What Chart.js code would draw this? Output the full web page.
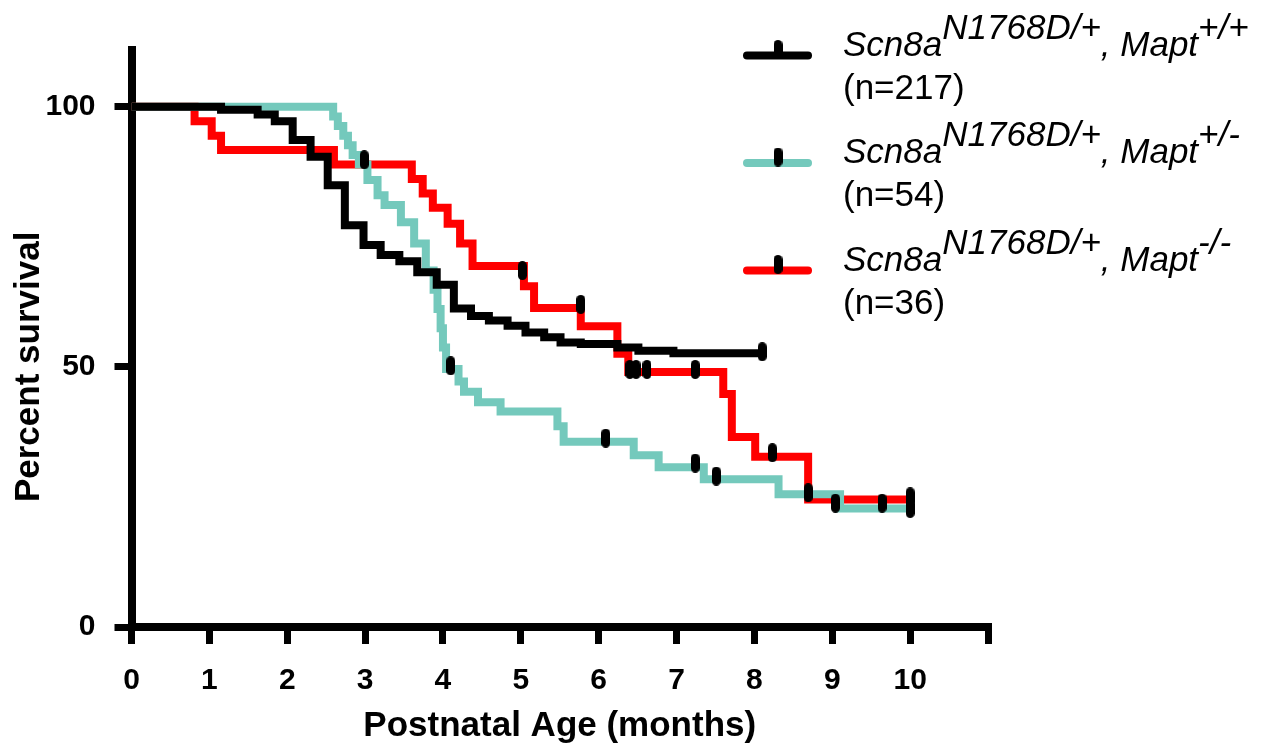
<!DOCTYPE html>
<html>
<head>
<meta charset="utf-8">
<script src="https://cdn.jsdelivr.net/npm/chart.js@4.4.0/dist/chart.umd.min.js"></script>
<style>
  html, body { margin: 0; padding: 0; background: #fff; }
</style>
</head>
<body>
<canvas id="km" width="1261" height="747"></canvas>
<script>
// Kaplan-Meier steps: survival drops to the given percent at the given month
const wtMonths   = [0, 1.15, 1.62, 1.84, 2.07, 2.30, 2.52, 2.74, 2.98, 3.20, 3.44, 3.67, 3.92, 4.14, 4.36, 4.59, 4.83, 5.06, 5.30, 5.51, 5.77, 6.24, 6.51, 6.96, 8.10];
const wtSurvival = [100, 99.4, 98.5, 97.2, 93.6, 90.4, 84.9, 77.2, 73.4, 71.5, 70.3, 68.2, 65.8, 61.2, 59.8, 58.9, 57.9, 56.6, 55.7, 54.7, 54.4, 53.7, 53.1, 52.6, 52.6];

const hetMonths   = [0, 2.59, 2.65, 2.72, 2.78, 2.84, 2.92, 3.03, 3.16, 3.25, 3.46, 3.63, 3.78, 3.88, 3.93, 3.97, 4.00, 4.04, 4.20, 4.27, 4.45, 4.74, 5.47, 5.55, 6.45, 6.77, 7.35, 8.31, 9.10, 10.0];
const hetSurvival = [100, 98.1, 96.3, 94.4, 92.6, 90.7, 88.9, 85.9, 83.0, 81.1, 77.8, 73.7, 68.5, 64.8, 61.1, 57.4, 53.7, 49.6, 47.2, 45.2, 43.2, 41.4, 38.6, 35.6, 33.0, 30.7, 28.4, 25.5, 22.8, 22.8];

const koMonths   = [0, 0.81, 1.03, 1.15, 2.60, 3.60, 3.74, 3.87, 4.06, 4.22, 4.38, 5.04, 5.17, 5.77, 6.24, 6.38, 7.60, 7.71, 8.01, 8.69, 10.0];
const koSurvival = [100, 97.2, 94.4, 91.7, 88.9, 86.1, 83.3, 80.6, 77.5, 73.7, 69.4, 65.5, 61.3, 57.8, 52.5, 49.0, 44.8, 36.5, 32.7, 24.5, 24.5];

// censored animals (tick marks)
const wtCensorMonths  = [8.10];
const wtCensorY       = [52.9];
const hetCensorMonths = [2.99, 4.10, 6.09, 7.24, 7.51, 8.69, 10.0];
const hetCensorY      = [89.8, 50.2, 36.3, 31.5, 29.0, 25.8, 22.8];
const koCensorMonths  = [5.02, 5.77, 6.40, 6.48, 6.62, 7.24, 8.23, 9.04, 9.64, 10.0];
const koCensorY       = [68.5, 62.0, 49.5, 49.5, 49.5, 49.5, 33.5, 23.8, 23.8, 25.0];

const xTickValues = [0, 1, 2, 3, 4, 5, 6, 7, 8, 9, 10, 11];
const yTickValues = [0, 50, 100];

const mapGenotypes = ['+/+', '+/-', '-/-'];
const groupSizes = ['(n=217)', '(n=54)', '(n=36)'];
const colors = ['#000000', '#74C9BC', '#FF0000'];

const FONT = '"Liberation Sans", Arial, Helvetica, sans-serif';

const pts = (xs, ys) => xs.map((x, i) => ({ x: x, y: ys[i] }));

// small black pill used for censor marks
const tick = document.createElement('canvas');
tick.width = 9;
tick.height = 19;
(function () {
  const c = tick.getContext('2d');
  c.fillStyle = '#000';
  c.beginPath();
  c.roundRect(0, 0, 9, 19, 4.5);
  c.fill();
})();

function stepSet(data, color, order) {
  return {
    type: 'line', data: data, borderColor: color, borderWidth: 8,
    stepped: true, pointRadius: 0, fill: false, order: order
  };
}
function censorSet(data) {
  return {
    type: 'scatter', data: data, pointStyle: tick, pointRadius: 5,
    showLine: false, order: 0
  };
}

const legendPlugin = {
  id: 'kmLegend',
  afterDraw(chart) {
    const ctx = chart.ctx;
    ctx.save();
    ctx.textAlign = 'left';
    ctx.textBaseline = 'alphabetic';
    ctx.fillStyle = '#000';
    colors.forEach((col, i) => {
      const y = 55.5 + i * 107.5;
      ctx.strokeStyle = col;
      ctx.lineWidth = 8;
      ctx.lineCap = 'round';
      ctx.beginPath();
      ctx.moveTo(747, y);
      ctx.lineTo(808, y);
      ctx.stroke();
      ctx.drawImage(tick, 778 - tick.width / 2, y - 6 - tick.height / 2);

      let x = 843;
      ctx.font = 'italic 35px ' + FONT;
      const parts = [['Scn8a', 0], ['N1768D/+', -17], [', ', 0], ['Mapt', 0], [mapGenotypes[i], -17]];
      parts.forEach(p => {
        ctx.fillText(p[0], x, y + p[1]);
        x += ctx.measureText(p[0]).width;
      });
      ctx.font = '35px ' + FONT;
      ctx.fillText(groupSizes[i], 843, y + 43);
    });
    ctx.restore();
  }
};

const yTitlePlugin = {
  id: 'yTitle',
  afterDraw(chart) {
    const ctx = chart.ctx;
    ctx.save();
    ctx.translate(29, chart.scales.y.getPixelForValue(50));
    ctx.rotate(-Math.PI / 2);
    ctx.font = 'bold 35px ' + FONT;
    ctx.fillStyle = '#000';
    ctx.textAlign = 'center';
    ctx.textBaseline = 'middle';
    ctx.fillText('Percent survival', 0, 0);
    ctx.restore();
  }
};

new Chart(document.getElementById('km'), {
  data: {
    datasets: [
      censorSet(pts(wtCensorMonths, wtCensorY)),
      censorSet(pts(hetCensorMonths, hetCensorY)),
      censorSet(pts(koCensorMonths, koCensorY)),
      stepSet(pts(wtMonths, wtSurvival), colors[0], 1),
      stepSet(pts(hetMonths, hetSurvival), colors[1], 2),
      stepSet(pts(koMonths, koSurvival), colors[2], 3)
    ]
  },
  options: {
    responsive: false,
    animation: false,
    events: [],
    layout: { padding: { top: 49.5, right: 273, bottom: 0, left: 0 } },
    plugins: { legend: { display: false }, tooltip: { enabled: false } },
    scales: {
      x: {
        type: 'linear', min: 0, max: 11,
        afterBuildTicks: s => { s.ticks = xTickValues.map(v => ({ value: v })); },
        afterFit: s => { s.height = 120; },
        ticks: {
          callback: v => (v <= 10 ? v : ''),
          font: { family: FONT, size: 30, weight: 'bold' },
          color: '#000', padding: 19, maxRotation: 0, autoSkip: false
        },
        grid: { drawOnChartArea: false, tickLength: 17, tickWidth: 7, tickColor: '#000', lineWidth: 7 },
        border: { display: true, color: '#000', width: 8 },
        title: {
          display: true, text: 'Postnatal Age (months)', color: '#000',
          font: { family: FONT, size: 35, weight: 'bold' }, padding: { top: 0, bottom: 0 }
        }
      },
      y: {
        type: 'linear', min: 0, max: 111,
        afterBuildTicks: s => { s.ticks = yTickValues.map(v => ({ value: v })); },
        afterFit: s => { s.width = 131.5; },
        ticks: {
          font: { family: FONT, size: 30, weight: 'bold' },
          color: '#000', padding: 19
        },
        grid: { drawOnChartArea: false, tickLength: 17, tickWidth: 7, tickColor: '#000', lineWidth: 7 },
        border: { display: true, color: '#000', width: 8 }
      }
    }
  },
  plugins: [legendPlugin, yTitlePlugin]
});
</script>
</body>
</html>
